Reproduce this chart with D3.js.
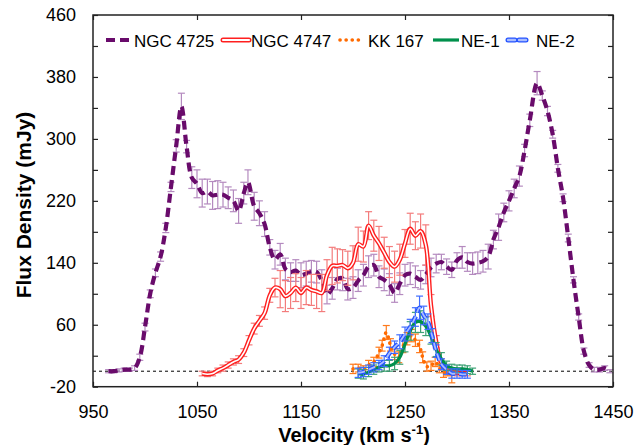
<!DOCTYPE html>
<html>
<head>
<meta charset="utf-8">
<style>
  body { margin: 0; background: #fff; }
  svg { display: block; font-family: "Liberation Sans", Arial, Helvetica, sans-serif; }
</style>
</head>
<body>
<script src="https://d3js.org/d3.v7.min.js"></script>
<script>
  // ---- data (velocity km/s, flux mJy, error mJy) ----
  const ngc4725Vel = [965, 970, 975, 980, 985, 990, 995, 1000, 1005, 1010, 1015, 1020, 1025, 1030, 1035, 1040, 1045, 1050, 1055, 1060,
    1065, 1070, 1075, 1080, 1085, 1090, 1095, 1099, 1105, 1110, 1115, 1120, 1125, 1130, 1135, 1140, 1145, 1150, 1155, 1160,
    1165, 1170, 1175, 1180, 1185, 1190, 1195, 1200, 1205, 1210, 1215, 1220, 1225, 1230, 1235, 1240, 1245, 1250, 1255, 1260,
    1265, 1270, 1275, 1280, 1285, 1290, 1295, 1300, 1305, 1310, 1315, 1320, 1325, 1330, 1335, 1340, 1345, 1350, 1355, 1360,
    1365, 1370, 1377, 1382, 1387, 1392, 1397, 1402, 1407, 1412, 1417, 1422, 1427, 1432, 1437, 1442, 1447]
  const ngc4725Flux = [0, 0, 1, 2, 2, 4, 18, 57, 100, 127, 148, 185, 238, 291, 342, 290, 250, 242, 230, 232,
    227, 228, 228, 224, 220, 207, 230, 244, 213, 204, 190, 160, 144, 151, 132, 128, 130, 124, 126, 129,
    128, 117, 99, 107, 119, 120, 106, 108, 117, 124, 135, 137, 122, 118, 112, 101, 113, 124, 126, 122,
    118, 125, 134, 139, 141, 135, 131, 143, 147, 141, 139, 140, 142, 148, 170, 186, 205, 220, 236, 252,
    285, 324, 372, 356, 336, 306, 262, 224, 172, 118, 70, 26, 8, 2, 2, 4, 0]
  const ngc4725Err = [2, 2, 2, 2, 2, 3, 4, 5, 5, 5, 6, 6, 6, 8, 17, 8, 14, 18, 18, 16,
    18, 18, 16, 14, 14, 16, 14, 16, 18, 16, 16, 10, 12, 14, 14, 12, 14, 16, 16, 14,
    14, 14, 12, 14, 14, 16, 14, 14, 14, 14, 14, 14, 14, 14, 14, 12, 14, 14, 14, 14,
    12, 12, 12, 12, 10, 10, 10, 10, 14, 12, 14, 14, 14, 16, 12, 17, 12, 13, 12, 13,
    8, 8, 15, 6, 6, 5, 5, 5, 5, 4, 4, 4, 3, 3, 3, 3, 2]

  const ngc4747Vel = [1055, 1060, 1065, 1070, 1075, 1080, 1085, 1090, 1095, 1100, 1105, 1110, 1115, 1120, 1125, 1130, 1135, 1140,
    1145, 1150, 1155, 1160, 1165, 1170, 1175, 1180, 1185, 1190, 1195, 1200, 1205, 1210, 1215, 1220, 1225, 1230, 1235, 1240,
    1245, 1250, 1255, 1260, 1265, 1270, 1275, 1280, 1285, 1290, 1295, 1300, 1305, 1310]
  const ngc4747Flux = [-3, -4, -3, 1, 4, 8, 12, 15, 24, 40, 55, 65, 75, 98, 108, 106, 97, 101,
    108, 101, 108, 105, 103, 101, 124, 136, 136, 137, 133, 140, 164, 161, 188, 175, 165, 153, 141, 135,
    144, 165, 184, 175, 181, 163, 85, 38, 10, 2, -1, -2, -2, -3]
  const ngc4747Err = [3, 3, 3, 3, 4, 4, 4, 5, 5, 6, 7, 7, 8, 9, 12, 24, 20, 20,
    18, 20, 22, 20, 22, 24, 20, 24, 22, 20, 22, 22, 22, 20, 18, 20, 22, 20, 20, 20,
    20, 18, 20, 18, 22, 26, 14, 8, 6, 5, 4, 4, 4, 3]

  const kk167Vel = [1200, 1205, 1210, 1215, 1220, 1225, 1228, 1232, 1236, 1240, 1244, 1248, 1252, 1256, 1260, 1264, 1267, 1271,
    1275, 1279, 1283, 1287, 1291, 1295]
  const kk167Flux = [3, 4, 2, 8, 12, 24, 33, 50, 34, 22, 18, 32, 42, 46, 40, 32, 18, 6,
    7, 12, 4, -2, 0, -9]
  const kk167Err = [6, 5, 5, 6, 6, 7, 7, 9, 8, 7, 7, 8, 8, 8, 8, 8, 7, 6,
    6, 6, 6, 6, 6, 6]

  const ne1Vel = [1205, 1210, 1215, 1220, 1225, 1230, 1235, 1240, 1245, 1250, 1255, 1260, 1265, 1270, 1275, 1280, 1285, 1290,
    1295, 1300, 1305, 1310, 1315]
  const ne1Flux = [-3, -4, -1, 2, 5, 7, 7, 10, 18, 35, 52, 63, 64, 58, 45, 28, 16, 7,
    4, 3, 3, 2, 0]
  const ne1Err = [6, 6, 6, 6, 6, 7, 7, 8, 9, 10, 12, 13, 14, 12, 10, 9, 8, 6,
    5, 5, 5, 5, 4]

  const ne2Vel = [1205, 1210, 1215, 1220, 1225, 1230, 1235, 1240, 1245, 1250, 1255, 1260, 1264, 1268, 1272, 1276, 1280, 1285,
    1290, 1295, 1300, 1305, 1310]
  const ne2Flux = [-2, -1, 2, 5, 8, 13, 23, 31, 38, 48, 57, 70, 82, 72, 64, 46, 26, 9,
    2, -3, -3, -4, -4]
  const ne2Err = [6, 6, 6, 6, 6, 7, 8, 8, 9, 9, 10, 12, 15, 12, 10, 9, 8, 7,
    6, 6, 6, 5, 5]

  const xTicks = [950, 1050, 1150, 1250, 1350, 1450]
  const yTicks = [-20, 20, 60, 100, 140, 180, 220, 260, 300, 340, 380, 420, 460]
  const yLabels = [-20, 60, 140, 220, 300, 380, 460]

  // ---- canvas ----
  const width = 637
  const height = 445
  const plot = { left: 93, right: 613, top: 15, bottom: 386.7 }

  const svg = d3.select('body')
    .append('svg')
    .attr('width', width)
    .attr('height', height)

  const x = d3.scaleLinear().domain([950, 1450]).range([plot.left, plot.right])
  const y = d3.scaleLinear().domain([-20, 460]).range([plot.bottom, plot.top])

  // axes: inward ticks on all four sides
  svg.append('g')
    .attr('transform', `translate(0, ${plot.bottom})`)
    .call(d3.axisBottom(x).tickValues(xTicks).tickSize(-5).tickPadding(19).tickFormat(d3.format('d')))
    .call(g => g.select('.domain').remove())
    .call(g => g.selectAll('text').attr('font-size', 18).attr('font-family', null).attr('fill', '#000'))
  svg.append('g')
    .attr('transform', `translate(0, ${plot.top})`)
    .call(d3.axisTop(x).tickValues(xTicks).tickSize(-5).tickFormat(''))
    .call(g => g.select('.domain').remove())
  svg.append('g')
    .attr('transform', `translate(${plot.left}, 0)`)
    .call(d3.axisLeft(y).tickValues(yTicks).tickSize(-5).tickPadding(17)
      .tickFormat(d => yLabels.includes(d) ? d : ''))
    .call(g => g.select('.domain').remove())
    .call(g => g.selectAll('text').attr('font-size', 18).attr('font-family', null).attr('fill', '#000'))
  svg.append('g')
    .attr('transform', `translate(${plot.right}, 0)`)
    .call(d3.axisRight(y).tickValues(yTicks).tickSize(-5).tickFormat(''))
    .call(g => g.select('.domain').remove())
  svg.selectAll('.tick line').attr('stroke', '#222').attr('stroke-width', 1.2)

  // zero line
  svg.append('line')
    .attr('x1', plot.left).attr('x2', plot.right)
    .attr('y1', y(0)).attr('y2', y(0))
    .attr('stroke', '#000').attr('stroke-width', 1).attr('stroke-dasharray', '3,3')

  const zip = (v, f, e) => v.map((d, i) => ({ v: d, f: f[i], e: e[i] }))

  const series = [
    { name: 'NGC 4725', data: zip(ngc4725Vel, ngc4725Flux, ngc4725Err), err: '#b48abf',
      strokes: [{ color: '#690b6b', width: 4.2, dash: '9,5' }] },
    { name: 'NGC 4747', data: zip(ngc4747Vel, ngc4747Flux, ngc4747Err), err: '#f37c7c',
      strokes: [{ color: '#ff1f1f', width: 4.4 }, { color: '#fff', width: 1.6 }] },
    { name: 'KK 167', data: zip(kk167Vel, kk167Flux, kk167Err), err: '#ff7a1c',
      strokes: [{ color: '#ff6a00', width: 3.6, dash: '0.1,6', cap: 'round' }] },
    { name: 'NE-1', data: zip(ne1Vel, ne1Flux, ne1Err), err: '#3ea275',
      strokes: [{ color: '#00904c', width: 3.2 }] },
    { name: 'NE-2', data: zip(ne2Vel, ne2Flux, ne2Err), err: '#3f6cff',
      strokes: [{ color: '#2453ff', width: 4.4, dash: '7,4' }, { color: '#a9bdff', width: 1.8, dash: '7,4' }] }
  ]

  const line = d3.line()
    .x(d => x(d.v))
    .y(d => y(d.f))
    .curve(d3.curveCatmullRom.alpha(0.5))

  series.forEach(s => {
    const g = svg.append('g')
    // error bars
    const eb = g.append('g').attr('stroke', s.err).attr('stroke-width', 1.2)
    s.data.forEach(d => {
      const xx = x(d.v)
      eb.append('line').attr('x1', xx).attr('x2', xx).attr('y1', y(d.f - d.e)).attr('y2', y(d.f + d.e))
      eb.append('line').attr('x1', xx - 3.5).attr('x2', xx + 3.5).attr('y1', y(d.f - d.e)).attr('y2', y(d.f - d.e))
      eb.append('line').attr('x1', xx - 3.5).attr('x2', xx + 3.5).attr('y1', y(d.f + d.e)).attr('y2', y(d.f + d.e))
    })
    s.strokes.forEach(st => {
      g.append('path')
        .datum(s.data)
        .attr('d', line)
        .attr('fill', 'none')
        .attr('stroke', st.color)
        .attr('stroke-width', st.width)
        .attr('stroke-dasharray', st.dash || null)
        .attr('stroke-linecap', st.cap || 'butt')
        .attr('stroke-linejoin', 'round')
    })
  })

  // frame
  svg.append('rect')
    .attr('x', plot.left).attr('y', plot.top)
    .attr('width', plot.right - plot.left).attr('height', plot.bottom - plot.top)
    .attr('fill', 'none').attr('stroke', '#222').attr('stroke-width', 1.5)

  // legend
  const legendX = [106, 223, 340, 433, 508]
  const legendLen = [27, 26, 24, 26, 22]
  const legendTextX = [134, 251, 368, 461, 536]
  const ly = 40
  series.forEach((s, i) => {
    const g = svg.append('g')
    s.strokes.forEach(st => {
      g.append('line')
        .attr('x1', legendX[i]).attr('x2', legendX[i] + legendLen[i])
        .attr('y1', ly).attr('y2', ly)
        .attr('stroke', st.color)
        .attr('stroke-width', st.width + (s.strokes.length > 1 ? 0.6 : 0))
        .attr('stroke-dasharray', st.dash || null)
        .attr('stroke-linecap', st.cap || (s.strokes.length > 1 ? 'round' : 'butt'))
    })
    g.append('text')
      .attr('x', legendTextX[i]).attr('y', ly + 6.5)
      .attr('font-size', 17)
      .text(s.name)
  })

  // axis titles
  svg.append('text')
    .attr('transform', 'translate(31, 205) rotate(-90)')
    .attr('text-anchor', 'middle')
    .attr('font-size', 21).attr('font-weight', 'bold')
    .text('Flux Density (mJy)')

  const xt = svg.append('text')
    .attr('x', 354).attr('y', 442)
    .attr('text-anchor', 'middle')
    .attr('font-size', 20).attr('font-weight', 'bold')
  xt.append('tspan').text('Velocity (km s')
  xt.append('tspan').attr('font-size', 13).attr('dy', -8).text('-1')
  xt.append('tspan').attr('dy', 8).text(')')
</script>
</body>
</html>
